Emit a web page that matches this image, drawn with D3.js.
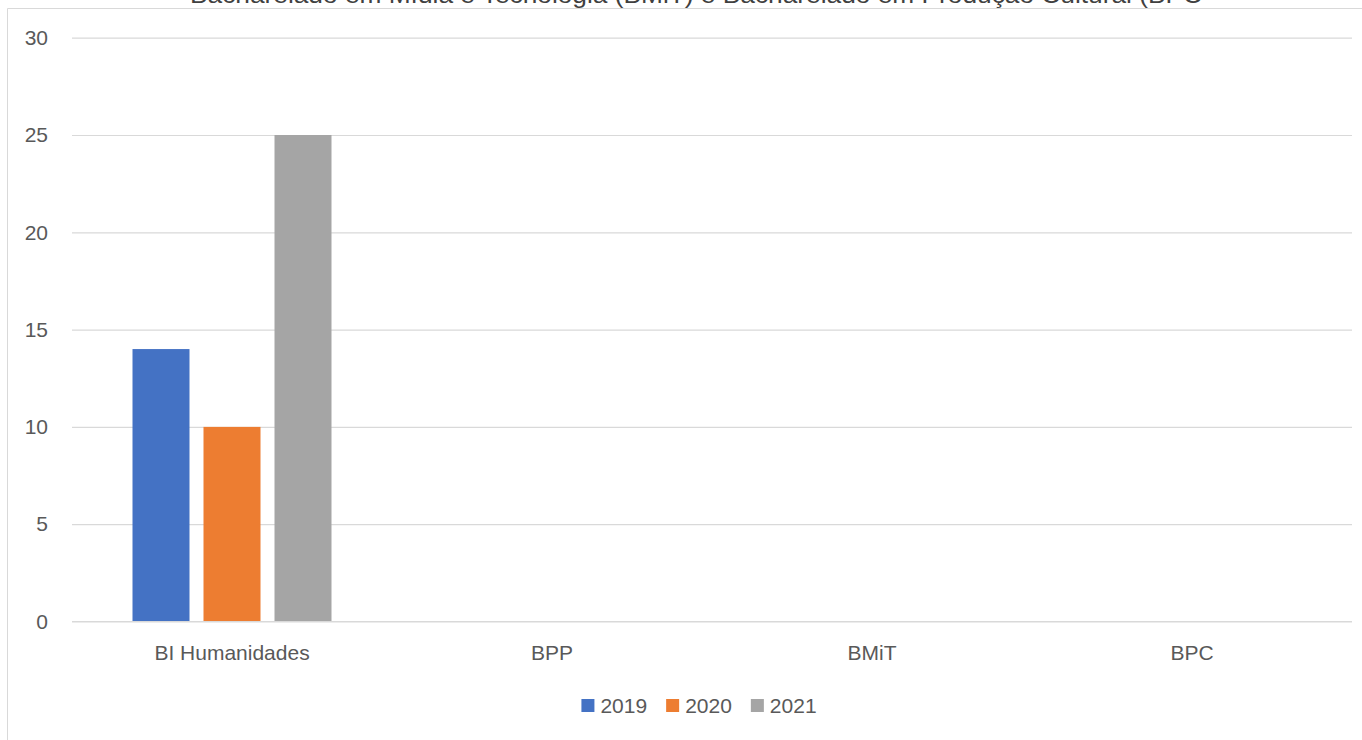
<!DOCTYPE html>
<html>
<head>
<meta charset="utf-8">
<script src="https://cdn.jsdelivr.net/npm/d3@7"></script>
<style>
  html, body { margin: 0; padding: 0; background: #fff; }
  svg { display: block; }
  text { font-family: "Liberation Sans", Arial, sans-serif; }
</style>
</head>
<body>
<svg id="chart" width="1362" height="740"></svg>
<script>
const titleText = "Bacharelado em Mídia e Tecnologia (BMiT) e Bacharelado em Produção Cultural (BPC";
const categories = ["BI Humanidades", "BPP", "BMiT", "BPC"];
const seriesNames = ["2019", "2020", "2021"];
const values2019 = [14, 0, 0, 0];
const values2020 = [10, 0, 0, 0];
const values2021 = [25, 0, 0, 0];
const yTicks = [0, 5, 10, 15, 20, 25, 30];
const colors = ["#4472C4", "#ED7D31", "#A5A5A5"];

const seriesValues = [values2019, values2020, values2021];
const svg = d3.select("#chart");
const W = 1362, H = 740;

// chart area border (cropped)
svg.append("path")
  .attr("d", `M7.5,${H} L7.5,8.5 L${W},8.5`)
  .attr("fill", "none").attr("stroke", "#d9d9d9").attr("stroke-width", 1);

// title (cropped at the top)
svg.append("text")
  .attr("x", 696).attr("y", 3)
  .attr("text-anchor", "middle")
  .attr("font-size", 24)
  .attr("fill", "#404040")
  .attr("textLength", 1012)
  .attr("lengthAdjust", "spacingAndGlyphs")
  .text(titleText);

const plotLeft = 72, plotRight = 1352, plotTop = 37.7, plotBottom = 621.5;

const x = d3.scaleBand().domain(categories).range([plotLeft, plotRight]).padding(0);
const groupPad = 60.5;
const xs = d3.scaleBand().domain(seriesNames)
  .range([groupPad, x.bandwidth() - groupPad]).paddingInner(14 / 71).paddingOuter(0);
const y = d3.scaleLinear().domain([0, 30]).range([plotBottom, plotTop]);

// gridlines
const yAxis = d3.axisLeft(y).tickValues(yTicks).tickSize(-(plotRight - plotLeft)).tickPadding(24);
const gy = svg.append("g").attr("transform", `translate(${plotLeft},0)`).call(yAxis);
gy.select(".domain").remove();
gy.selectAll(".tick line").attr("stroke", "#d9d9d9").attr("stroke-width", 1.2);
gy.selectAll(".tick text")
  .attr("font-size", 21).attr("fill", "#595959")
  .attr("font-family", "Liberation Sans, Arial, sans-serif");

// bars
const groups = svg.append("g").selectAll("g")
  .data(seriesNames)
  .join("g")
  .attr("fill", (d, i) => colors[i]);
groups.selectAll("rect")
  .data((s, si) => categories.map((c, ci) => ({ c, s, v: seriesValues[si][ci] })))
  .join("rect")
  .attr("x", d => x(d.c) + xs(d.s))
  .attr("width", xs.bandwidth())
  .attr("y", d => y(d.v))
  .attr("height", d => y(0) - y(d.v));

// baseline
svg.append("line")
  .attr("x1", plotLeft).attr("x2", plotRight)
  .attr("y1", y(0)).attr("y2", y(0))
  .attr("stroke", "#d9d9d9").attr("stroke-width", 1.2);

// category axis
const xAxis = d3.axisBottom(x).tickSize(0).tickPadding(24);
const gx = svg.append("g").attr("transform", `translate(0,${plotBottom})`).call(xAxis);
gx.select(".domain").remove();
gx.selectAll(".tick text")
  .attr("font-size", 21).attr("fill", "#595959")
  .attr("font-family", "Liberation Sans, Arial, sans-serif");

// legend
const legend = svg.append("g");
const items = legend.selectAll("g").data(seriesNames).join("g");
items.append("rect").attr("width", 13).attr("height", 13).attr("y", -13.5)
  .attr("fill", (d, i) => colors[i]);
items.append("text").attr("x", 19).attr("y", 0)
  .attr("font-size", 21).attr("fill", "#595959").text(d => d);
let cx = 0;
const widths = [];
items.each(function () {
  const tw = d3.select(this).select("text").node().getComputedTextLength();
  widths.push(19 + tw);
});
items.attr("transform", (d, i) => {
  const t = `translate(${cx},0)`;
  cx += widths[i] + 19;
  return t;
});
const total = cx - 19;
legend.attr("transform", `translate(${699 - total / 2},712.5)`);
</script>
</body>
</html>
